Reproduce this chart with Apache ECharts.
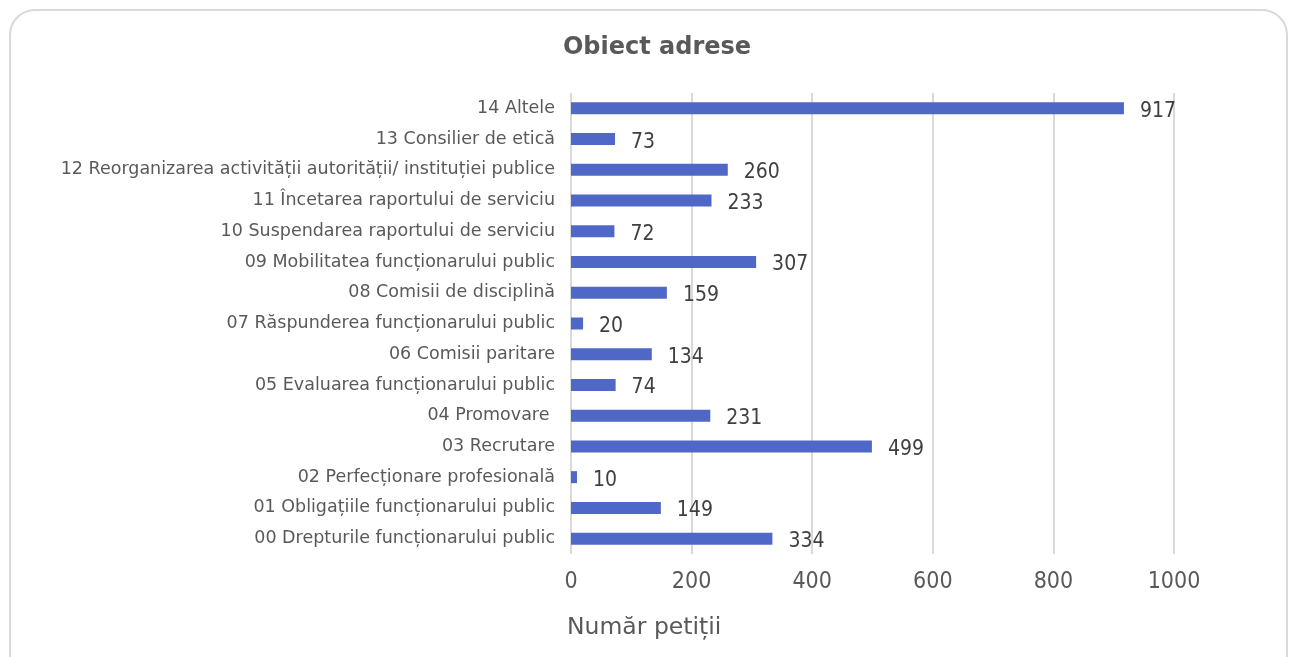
<!DOCTYPE html>
<html>
<head>
<meta charset="utf-8">
<script src="https://cdn.jsdelivr.net/npm/echarts@6/dist/echarts.min.js"></script>
<style>
  html, body { margin: 0; padding: 0; background: #fff; overflow: hidden; }
  #box {
    position: absolute; left: 9px; top: 9px; width: 1279px; height: 700px;
    border: 2px solid #d9d9d9; border-radius: 26px; box-sizing: border-box;
  }
  #main { position: absolute; left: 0; top: 0; width: 1293px; height: 657px; }
</style>
</head>
<body>
<div id="box"></div>
<div id="main"></div>
<script>
// categorii (de jos in sus)
var categories = [
  '00 Drepturile funcționarului public',
  '01 Obligațiile funcționarului public',
  '02 Perfecționare profesională',
  '03 Recrutare',
  '04 Promovare ',
  '05 Evaluarea funcționarului public',
  '06 Comisii paritare',
  '07 Răspunderea funcționarului public',
  '08 Comisii de disciplină',
  '09 Mobilitatea funcționarului public',
  '10 Suspendarea raportului de serviciu',
  '11 Încetarea raportului de serviciu',
  '12 Reorganizarea activității autorității/ instituției publice',
  '13 Consilier de etică',
  '14 Altele'
]
var values = [334, 149, 10, 499, 231, 74, 134, 20, 159, 307, 72, 233, 260, 73, 917]
var xTicks = [0, 200, 400, 600, 800, 1000]

var myChart = echarts.init(document.getElementById('main'))
var numFont = 'DejaVu Sans Condensed'
var txtFont = 'DejaVu Sans'

var option = {
  animation: false,
  title: [
    {
      text: 'Obiect adrese',
      left: 652,
      textAlign: 'center',
      top: 31,
      textStyle: { fontFamily: txtFont, fontSize: 24, fontWeight: 'bold', color: '#595959' }
    },
    {
      text: 'Număr petiții',
      left: 562,
      top: 611,
      textStyle: { fontFamily: txtFont, fontSize: 23.5, fontWeight: 'normal', color: '#595959' }
    }
  ],
  grid: { left: 571, right: 119, top: 93, bottom: 103, containLabel: false },
  xAxis: {
    type: 'value',
    min: xTicks[0],
    max: xTicks[xTicks.length - 1],
    interval: 200,
    axisLine: { show: false },
    axisTick: { show: false },
    splitLine: { show: true, lineStyle: { color: '#d9d9d9', width: 2 } },
    axisLabel: {
      margin: 17, fontFamily: numFont, fontSize: 23, color: '#595959',
      formatter: function (v) { return String(v) }
    }
  },
  yAxis: {
    type: 'category',
    data: categories,
    axisLine: { show: false },
    axisTick: { show: false },
    axisLabel: { margin: 16, fontFamily: txtFont, fontSize: 17.5, color: '#595959' }
  },
  series: [
    {
      type: 'bar',
      data: values,
      barWidth: 12,
      itemStyle: { color: '#4f68c8' },
      label: {
        show: true,
        position: 'right',
        distance: 16,
        fontFamily: numFont,
        fontSize: 21,
        color: '#404040',
        offset: [0, 3]
      }
    }
  ]
}

myChart.setOption(option)
</script>
</body>
</html>
